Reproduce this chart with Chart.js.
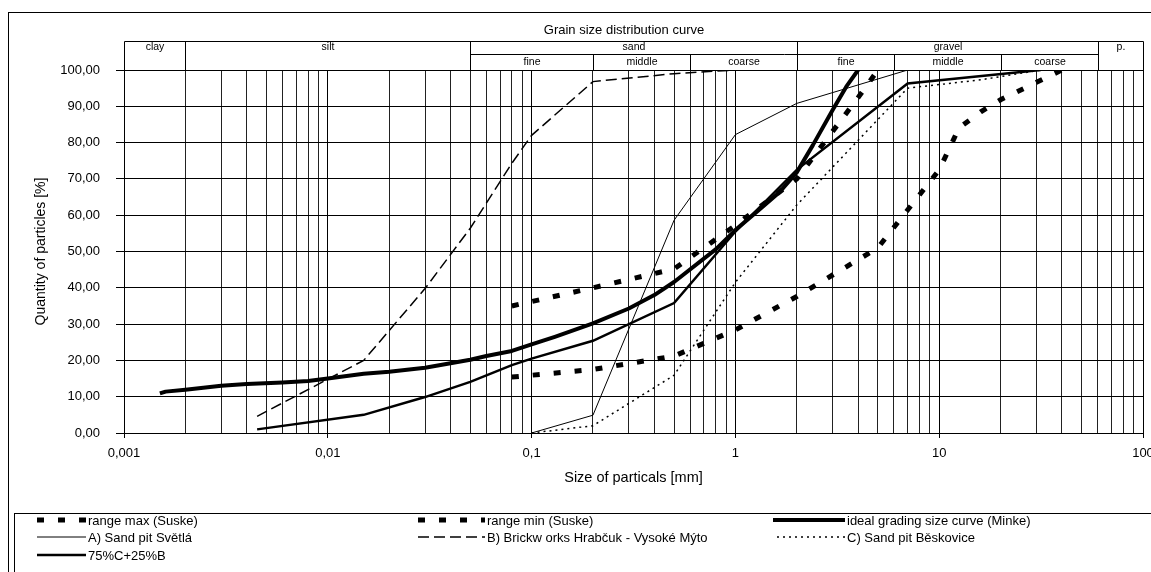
<!DOCTYPE html>
<html>
<head>
<meta charset="utf-8">
<script src="https://cdn.jsdelivr.net/npm/chart.js@4.4.1/dist/chart.umd.min.js"></script>
<style>
  body { margin: 0; background: #fff; }
  #wrap { width: 1151px; height: 572px; }
</style>
</head>
<body>
<div id="wrap"><canvas id="myChart"></canvas></div>
<script>
// grain size curves, size in mm, passing in %
const rangeMaxSize = [0.08, 0.2, 0.5, 1, 2, 4, 5];
const rangeMaxPct = [35.0, 40.0, 45.2, 57.2, 70.0, 92.4, 100];

const rangeMinSize = [0.08, 0.2, 0.5, 1, 2, 5, 10, 12.5, 16, 20, 40];
const rangeMinPct = [15.4, 17.5, 21.2, 28.4, 37.6, 51.0, 72.5, 84.0, 88.5, 91.8, 100];

const idealSize = [0.0015, 0.0016, 0.002, 0.003, 0.004, 0.006, 0.008, 0.01, 0.015, 0.02, 0.03, 0.04,
  0.05, 0.06, 0.08, 0.1, 0.13, 0.2, 0.3, 0.4, 0.5, 0.8, 1, 1.3, 1.65, 2, 2.4, 3, 3.5, 4];
const idealPct = [10.9, 11.4, 11.9, 13.0, 13.5, 13.9, 14.3, 15.0, 16.3, 16.9, 18.0, 19.2,
  20.2, 21.2, 22.6, 24.4, 26.5, 30.2, 34.3, 38.0, 41.6, 50.6, 55.9, 61.4, 66.4, 71.8, 79.3, 89.0, 95.4, 100];

const sandASize = [0.1, 0.2, 0.5, 1, 2, 7];
const sandAPct = [0, 4.9, 58.6, 82.2, 90.8, 100];

const brickBSize = [0.0045, 0.015, 0.03, 0.05, 0.08, 0.1, 0.2, 0.5, 1];
const brickBPct = [4.6, 20.0, 39.8, 56.4, 74.3, 82.0, 96.8, 99.0, 100];

const sandCSize = [0.1, 0.2, 0.5, 1, 2, 7, 16, 31.5];
const sandCPct = [0, 2.0, 15.9, 41.5, 62.8, 95.0, 97.3, 100];

const mixSize = [0.0045, 0.015, 0.03, 0.05, 0.08, 0.1, 0.2, 0.5, 1, 2, 7, 31.5];
const mixPct = [1.0, 5.0, 9.9, 14.1, 18.7, 20.5, 25.4, 35.8, 55.5, 72.5, 96.3, 100];

// header bands (mm)
const fractionBounds = [0.001, 0.002, 0.05, 2, 60, 100];
const fractionNames = ["clay", "silt", "sand", "gravel", "p."];
const sandBounds = [0.05, 0.2, 0.6, 2];
const gravelBounds = [2, 6, 20, 60];
const subNames = ["fine", "middle", "coarse"];

const xTickValues = [0.001, 0.01, 0.1, 1, 10, 100];
const xTickLabels = ["0,001", "0,01", "0,1", "1", "10", "100"];

const FONT = "'Liberation Sans', Arial, sans-serif";
Chart.defaults.font.family = FONT;
Chart.defaults.color = "#000";

function pts(sizes, pcts) {
  return sizes.map((s, i) => ({ x: s, y: pcts[i] }));
}

function isDecade(v) {
  const l = Math.log10(v);
  return Math.abs(l - Math.round(l)) < 1e-6;
}

// vertical grid lines 1..9 per decade
const gridSizes = [];
for (let e = -3; e <= 1; e++) {
  for (let m = 1; m <= 9; m++) gridSizes.push(+(m * Math.pow(10, e)).toPrecision(2));
}
gridSizes.push(100);

const base = { borderColor: "#000", backgroundColor: "#000", pointRadius: 0, fill: false, tension: 0, borderCapStyle: "butt" };

const data = {
  datasets: [
    { ...base, label: "range max (Suske)", data: pts(rangeMaxSize, rangeMaxPct), borderWidth: 5, borderDash: [7, 14] },
    { ...base, label: "range min (Suske)", data: pts(rangeMinSize, rangeMinPct), borderWidth: 5, borderDash: [7, 14] },
    { ...base, label: "ideal grading size curve (Minke)", data: pts(idealSize, idealPct), borderWidth: 4, borderJoinStyle: "round" },
    { ...base, label: "A) Sand pit Světlá", data: pts(sandASize, sandAPct), borderWidth: 1 },
    { ...base, label: "B) Brickw orks Hrabčuk - Vysoké Mýto", data: pts(brickBSize, brickBPct), borderWidth: 1.5, borderDash: [11, 5] },
    { ...base, label: "C) Sand pit Běskovice", data: pts(sandCSize, sandCPct), borderWidth: 1.5, borderDash: [2, 4] },
    { ...base, label: "75%C+25%B", data: pts(mixSize, mixPct), borderWidth: 2.5 },
  ],
};

// legend slots: [x0, x1, y]
const legendSlots = [[37, 86, 520], [418, 485, 520], [773, 845, 520], [37, 86, 537], [418, 485, 537], [777, 845, 537], [37, 86, 555]];

const sheet = {
  id: "sheet",
  beforeDraw(chart) {
    const ctx = chart.ctx;
    ctx.save();
    ctx.fillStyle = "#fff";
    ctx.fillRect(0, 0, chart.width, chart.height);
    ctx.restore();
  },
  afterDraw(chart) {
    const ctx = chart.ctx;
    const xs = chart.scales.x;
    const area = chart.chartArea;
    const px = (v) => Math.round(xs.getPixelForValue(v)) + 0.5;
    ctx.save();
    ctx.strokeStyle = "#000";
    ctx.fillStyle = "#000";
    ctx.lineWidth = 1;
    ctx.setLineDash([]);

    // frames
    ctx.strokeRect(8.5, 12.5, 1200, 700);
    ctx.strokeRect(14.5, 513.5, 1200, 100);

    ctx.font = "13px " + FONT;
    ctx.textAlign = "center";
    ctx.textBaseline = "middle";
    ctx.fillText("Grain size distribution curve", 624, 30);

    // header table
    const top = 41.5, mid = 54.5, bot = Math.round(area.top) + 0.5;
    ctx.beginPath();
    ctx.moveTo(px(fractionBounds[0]), top);
    ctx.lineTo(px(fractionBounds[fractionBounds.length - 1]), top);
    ctx.moveTo(px(0.05), mid);
    ctx.lineTo(px(60), mid);
    fractionBounds.forEach((b) => {
      ctx.moveTo(px(b), top);
      ctx.lineTo(px(b), bot);
    });
    [sandBounds, gravelBounds].forEach((bb) => {
      bb.slice(1, -1).forEach((b) => {
        ctx.moveTo(px(b), mid);
        ctx.lineTo(px(b), bot);
      });
    });
    ctx.stroke();

    ctx.font = "10.5px " + FONT;
    fractionNames.forEach((n, i) => {
      const cx = (px(fractionBounds[i]) + px(fractionBounds[i + 1])) / 2;
      ctx.fillText(n, cx, 47.5);
    });
    [sandBounds, gravelBounds].forEach((bb) => {
      subNames.forEach((n, i) => {
        const cx = (px(bb[i]) + px(bb[i + 1])) / 2;
        ctx.fillText(n, cx, 62.5);
      });
    });

    // legend
    ctx.font = "13px " + FONT;
    ctx.textAlign = "left";
    chart.data.datasets.forEach((ds, i) => {
      const [x0, x1, y] = legendSlots[i];
      ctx.save();
      ctx.lineWidth = ds.borderWidth;
      ctx.lineCap = "butt";
      ctx.setLineDash(ds.borderDash || []);
      ctx.beginPath();
      ctx.moveTo(x0, y);
      ctx.lineTo(x1, y);
      ctx.stroke();
      ctx.restore();
      ctx.fillText(ds.label, x1 + 2, y + 1);
    });
    ctx.restore();
  },
};

const options = {
  responsive: true,
  maintainAspectRatio: false,
  animation: false,
  layout: { padding: { top: 70, right: 8, left: 0, bottom: 0 } },
  plugins: { legend: { display: false }, tooltip: { enabled: false } },
  scales: {
    x: {
      type: "logarithmic",
      min: 0.001,
      max: 100,
      afterBuildTicks(scale) {
        scale.ticks = gridSizes.map((v) => ({ value: v, major: false }));
      },
      afterFit(scale) {
        scale.height = 139;
        scale.paddingLeft = 0;
        scale.paddingRight = 0;
      },
      ticks: {
        autoSkip: false,
        maxRotation: 0,
        padding: 8,
        font: { size: 13 },
        callback(value) {
          const i = xTickValues.findIndex((t) => Math.abs(t - value) / t < 1e-6);
          return i >= 0 ? xTickLabels[i] : "";
        },
      },
      grid: {
        color: (c) => (c.tick && isDecade(c.tick.value) ? "#000" : "#222"),
        tickLength: 5,
        tickColor: (c) => (c.tick && isDecade(c.tick.value) ? "#000" : "rgba(0,0,0,0)"),
      },
      border: { color: "#000" },
      title: { display: true, text: "Size of particals [mm]", font: { size: 14.5 }, padding: { top: 0, bottom: 85 } },
    },
    y: {
      min: 0,
      max: 100,
      afterFit(scale) {
        scale.width = 124;
        scale.paddingTop = 0;
        scale.paddingBottom = 0;
      },
      ticks: {
        stepSize: 10,
        padding: 16,
        font: { size: 13 },
        callback: (v) => v.toFixed(2).replace(".", ","),
      },
      grid: { color: "#000", tickLength: 8, tickColor: "#000" },
      border: { color: "#000" },
      title: { display: true, text: "Quantity of particles [%]", font: { size: 14 }, padding: { top: 33, bottom: 0 } },
    },
  },
};

const ctx = document.getElementById("myChart").getContext("2d");
const grainChart = new Chart(ctx, { type: "line", data: data, options: options, plugins: [sheet] });
</script>
</body>
</html>
